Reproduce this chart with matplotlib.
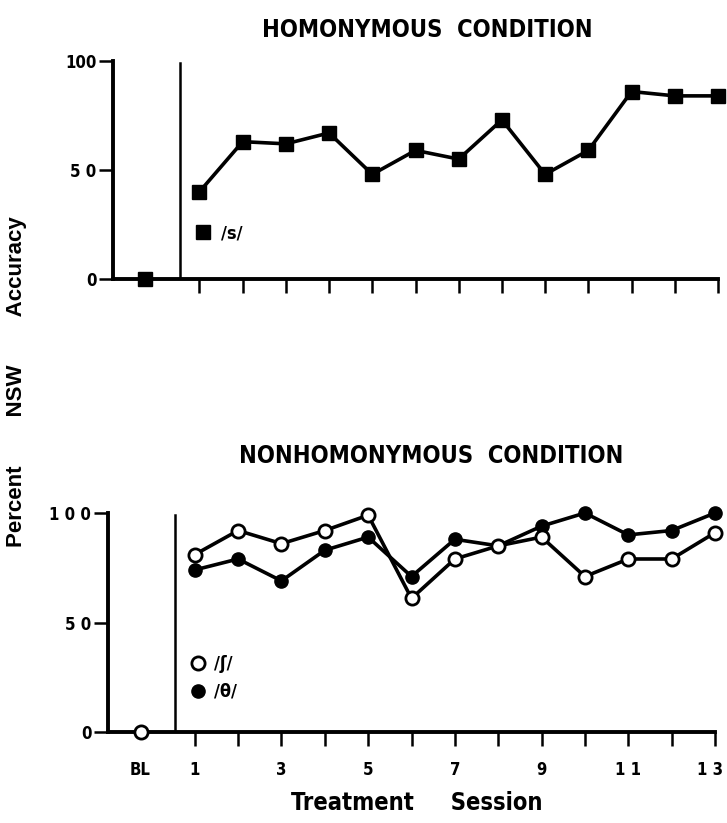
import numpy as np
import matplotlib
matplotlib.use("Agg")
import matplotlib.pyplot as plt
from matplotlib.transforms import ScaledTranslation

# session positions (BL sits left of the phase line)
sessions = np.arange(1, 14)
bl_pos = -0.25
phase_line = 0.55

# homonymous condition, /s/
s_bl = [0]
s_vals = [40, 63, 62, 67, 48, 59, 55, 73, 48, 59, 86, 84, 84]

# nonhomonymous condition
sh_bl = [0]
sh_vals = [81, 92, 86, 92, 99, 61, 79, 85, 89, 71, 79, 79, 91]   # /ʃ/ open
th_bl = [0]
th_vals = [74, 79, 69, 83, 89, 71, 88, 85, 94, 100, 90, 92, 100]  # /θ/ filled

xtick_labels = ["BL", "1", "3", "5", "7", "9", "1 1", "1 3"]

# condensed bold stands in for the original's Helvetica Condensed
cond = dict(fontfamily="DejaVu Sans", fontstretch="condensed", fontweight="bold")
cond_prop = {"family": "DejaVu Sans", "stretch": "condensed", "weight": "bold", "size": 13}

fig = plt.figure(figsize=(7.27, 8.23), dpi=100)
ax1 = fig.add_axes([113/727, 1-279/823, 605/727, 218/823])
ax2 = fig.add_axes([108/727, 1-732/823, 607/727, 219/823])

lw = 2.6
spine_w = 2.8

def style(ax, ylabels):
    ax.set_xlim(-1, 13)
    ax.set_ylim(0, 100)
    for sp in ["top", "right"]:
        ax.spines[sp].set_visible(False)
    for sp in ["left", "bottom"]:
        ax.spines[sp].set_linewidth(spine_w)
    ax.axvline(phase_line, color="black", lw=1.8, ymax=0.99)
    ax.set_yticks([0, 50, 100])
    ax.set_yticklabels(ylabels, fontsize=12, **cond)
    ax.tick_params(axis="y", length=10, width=1.8, pad=2)
    ax.set_xticks(sessions)
    ax.tick_params(axis="x", length=10, width=1.8, direction="out")

# top panel
ax1.plot(bl_pos, s_bl, "s", color="black", ms=10, clip_on=False, zorder=5)
ax1.plot(sessions, s_vals, "-s", color="black", lw=lw, ms=10, clip_on=False,
         zorder=5, label="/s/")
style(ax1, ["0", "5 0", "100"])
ax1.set_xticklabels([])
leg1 = ax1.legend(loc="center left", bbox_to_anchor=(0.134, 0.211), frameon=False,
                  handlelength=1, handletextpad=0.5, borderpad=0, borderaxespad=0,
                  prop=cond_prop, numpoints=1)
leg1.legend_handles[0].set_linestyle("none")
ax1.text(0.52, 1.142, "HOMONYMOUS  CONDITION", transform=ax1.transAxes,
         ha="center", va="center", fontsize=17, **cond)

# bottom panel
ax2.plot(bl_pos, th_bl, "o", color="black", ms=9.5, clip_on=False, zorder=4)
ax2.plot(bl_pos, sh_bl, "o", color="black", mfc="white", mew=2, ms=9.5,
         clip_on=False, zorder=5)
ax2.plot(sessions, sh_vals, "-o", color="black", mfc="white", mew=2, lw=lw,
         ms=9.5, clip_on=False, zorder=5, label="/ʃ/")
ax2.plot(sessions, th_vals, "-o", color="black", lw=lw, ms=9.5,
         clip_on=False, zorder=4, label="/θ/")
style(ax2, ["0", "5 0", "1 0 0"])
ax2.set_xticks([bl_pos] + list(sessions))
ax2.set_xticklabels([xtick_labels[0]] + [xtick_labels[(i + 1) // 2] if i % 2 == 1 else ""
                                         for i in sessions],
                    fontsize=12, **cond)
ax2.tick_params(axis="x", pad=11)
ax2.get_xticklines()[0].set_visible(False)
ax2.get_xticklines()[1].set_visible(False)
# nudge "1 3" left so it stays inside the figure, as in the original
last = ax2.get_xticklabels()[-1]
last.set_transform(last.get_transform() + ScaledTranslation(-5/100, 0, fig.dpi_scale_trans))
leg = ax2.legend(loc="center left", bbox_to_anchor=(0.133, 0.247), frameon=False,
                 handlelength=1, handletextpad=0.4, borderpad=0, borderaxespad=0,
                 labelspacing=0.55, prop=cond_prop)
for h in leg.legend_handles:
    h.set_linestyle("none")
ax2.text(0.533, 1.26, "NONHOMONYMOUS  CONDITION", transform=ax2.transAxes,
         ha="center", va="center", fontsize=17, **cond)

fig.text(17/727, 1-382/823, "Percent        NSW        Accuracy", rotation=90,
         ha="center", va="center", fontfamily=["Liberation Sans", "DejaVu Sans"],
         fontweight="bold", fontsize=16)
fig.text(417/727, 1-803/823, "Treatment     Session", ha="center", va="center",
         fontsize=17, **cond)

fig.savefig("out.png", dpi=100, facecolor="white")
